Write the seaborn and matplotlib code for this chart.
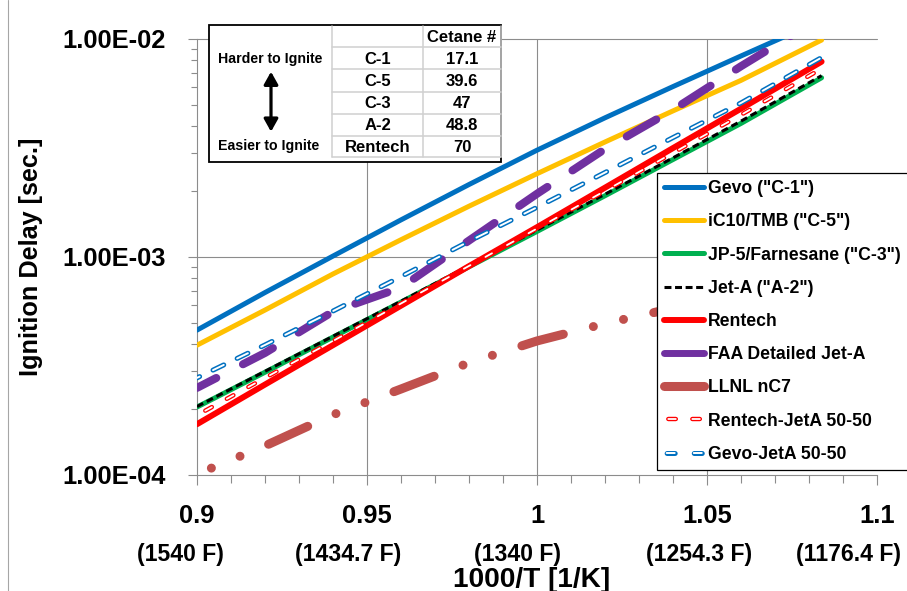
import numpy as np
import pandas as pd
import matplotlib
matplotlib.use("Agg")
import matplotlib.pyplot as plt
import seaborn as sns
from matplotlib.lines import Line2D
from matplotlib.legend_handler import HandlerTuple
from matplotlib.patches import Rectangle, ArrowStyle
from matplotlib.ticker import MultipleLocator, NullFormatter, LogLocator

# ---------------- data ----------------
inv_T = [0.90, 0.92, 0.94, 0.96, 0.98, 1.00, 1.02, 1.04, 1.06, 1.0837]
gevo = [4.62e-4, 6.87e-4, 1.01e-3, 1.48e-3, 2.15e-3, 3.09e-3, 4.35e-3, 6.05e-3, 8.36e-3, 1.22e-2]
ic10_tmb = [3.94e-4, 5.71e-4, 8.36e-4, 1.20e-3, 1.71e-3, 2.41e-3, 3.37e-3, 4.68e-3, 6.46e-3, 9.89e-3]
jp5_farnesane = [2.05e-4, 2.96e-4, 4.29e-4, 6.21e-4, 9.02e-4, 1.31e-3, 1.91e-3, 2.80e-3, 4.10e-3, 6.64e-3]
jet_a = [2.06e-4, 2.99e-4, 4.33e-4, 6.27e-4, 9.12e-4, 1.33e-3, 1.94e-3, 2.85e-3, 4.20e-3, 6.79e-3]
rentech = [1.71e-4, 2.60e-4, 3.94e-4, 5.98e-4, 9.08e-4, 1.37e-3, 2.08e-3, 3.16e-3, 4.79e-3, 7.87e-3]
faa_jet_a = [2.51e-4, 3.63e-4, 5.62e-4, 7.24e-4, 1.19e-3, 1.95e-3, 3.13e-3, 4.73e-3, 7.50e-3, 1.26e-2]
llnl_nc7 = [1.01e-4, 1.36e-4, 1.89e-4, 2.48e-4, 3.27e-4, 4.12e-4, 4.95e-4, 5.82e-4, 6.92e-4, 8.71e-4]
rentech_jeta = [1.88e-4, 2.79e-4, 4.12e-4, 6.12e-4, 9.10e-4, 1.35e-3, 2.01e-3, 3.00e-3, 4.49e-3, 7.31e-3]
gevo_jeta = [2.79e-4, 3.95e-4, 5.65e-4, 8.13e-4, 1.18e-3, 1.69e-3, 2.44e-3, 3.53e-3, 5.09e-3, 8.22e-3]

series_names = ['Gevo ("C-1")', 'iC10/TMB ("C-5")', 'JP-5/Farnesane ("C-3")', 'Jet-A ("A-2")',
                'Rentech', 'FAA Detailed Jet-A', 'LLNL nC7', 'Rentech-JetA 50-50', 'Gevo-JetA 50-50']

x_ticks = [0.9, 0.95, 1.0, 1.05, 1.1]
x_tick_labels = ["0.9", "0.95", "1", "1.05", "1.1"]
f_labels = ["(1540 F)", "(1434.7 F)", "(1340 F)", "(1254.3 F)", "(1176.4 F)"]
y_ticks = [1e-4, 1e-3, 1e-2]
y_tick_labels = ["1.00E-04", "1.00E-03", "1.00E-02"]

table_fuels = ["C-1", "C-5", "C-3", "A-2", "Rentech"]
table_cetane = ["17.1", "39.6", "47", "48.8", "70"]

# ---------------- style ----------------
sns.set_theme(style="ticks")
plt.rcParams['font.family'] = ['Liberation Sans', 'DejaVu Sans']
plt.rcParams['font.weight'] = 'bold'
plt.rcParams['lines.scale_dashes'] = False

W, H = 907, 591
fig = plt.figure(figsize=(W / 100, H / 100), dpi=100)
fig.patch.set_facecolor('white')


def fx(px):
    return px / W


def fy(py):
    return 1 - py / H


ax = fig.add_axes([fx(197), fy(475), (877 - 197) / W, (475 - 39) / H])
ax.set_facecolor('white')
ax.set_yscale('log')

C_BLUE = '#0070C0'
C_YEL = '#FFC000'
C_GRN = '#00B050'
C_RED = '#FF0000'
C_PUR = '#7030A0'
C_BRN = '#C0504D'
GRID = '#8C8C8C'


def draw(y, color, lw, ls='-', cap='round', z=3):
    sns.lineplot(x=inv_T, y=y, ax=ax, color=color, linewidth=lw, linestyle=ls,
                 dash_capstyle=cap, solid_capstyle=cap, legend=False,
                 estimator=None, sort=False, zorder=z)


draw(gevo, C_BLUE, 3.6)
draw(ic10_tmb, C_YEL, 3.6)
draw(jp5_farnesane, C_GRN, 3.6)
draw(jet_a, 'black', 2.2, ls=(0, (5.0, 2.9)), cap='butt')
draw(rentech, C_RED, 4.3)
draw(faa_jet_a, C_PUR, 5.8, ls=(8.9, (24.5, 21.6)))
draw(llnl_nc7, C_BRN, 6.5, ls=(42.1, (31.0, 22.3, 0.01, 22.3, 0.01, 22.3)))
draw(rentech_jeta, C_RED, 3.2, ls=(10.9, (5.4, 12.3)))
draw(rentech_jeta, 'white', 1.3, ls=(10.9, (5.4, 12.3)))
draw(gevo_jeta, C_BLUE, 3.6, ls=(6.5, (8.6, 10.7)))
draw(gevo_jeta, 'white', 1.4, ls=(6.5, (8.6, 10.7)))

ax.set_xlim(0.9, 1.1)
ax.set_ylim(1e-4, 1e-2)

# grid lines (Excel style)
for xv in [0.95, 1.0, 1.05]:
    ax.axvline(xv, color=GRID, lw=0.8, zorder=1)
ax.axhline(1e-3, color=GRID, lw=0.8, zorder=1)
ax.axhline(1e-2, color=GRID, lw=0.8, zorder=1, clip_on=False)

for s in ['top', 'right']:
    ax.spines[s].set_visible(False)
for s in ['left', 'bottom']:
    ax.spines[s].set_color(GRID)
    ax.spines[s].set_linewidth(0.8)

ax.set_xticks(x_ticks, labels=x_tick_labels)
ax.xaxis.set_minor_locator(MultipleLocator(0.01))
ax.set_yticks(y_ticks, labels=y_tick_labels)
ax.yaxis.set_minor_locator(LogLocator(base=10, subs=np.arange(2, 10)))
ax.yaxis.set_minor_formatter(NullFormatter())

ax.tick_params(axis='x', which='major', direction='out', length=7.2, width=0.8, color=GRID,
               pad=13.5, labelsize=18.4, bottom=True)
ax.tick_params(axis='x', which='minor', direction='out', length=5.5, width=0.8, color=GRID, bottom=True)
ax.tick_params(axis='y', which='major', direction='out', length=6.5, width=0.8, color=GRID,
               pad=16.0, labelsize=18.4, left=True)
ax.tick_params(axis='y', which='minor', direction='out', length=4.0, width=0.8, color=GRID, left=True)
for lab in ax.get_xticklabels() + ax.get_yticklabels():
    lab.set_fontweight('bold')
    lab.set_color('black')

ax.set_xlabel("1000/T [1/K]", fontsize=20.2, fontweight='bold', color='black')
ax.xaxis.label.set_va('baseline')
ax.xaxis.set_label_coords((531.7 - 197) / 680, (475 - 586.7) / 436)
ax.set_ylabel("Ignition Delay [sec.]", fontsize=18.2, fontweight='bold', color='black')
ax.yaxis.set_label_coords((43.4 - 197) / 680, (475 - 257.3) / 436)

# Fahrenheit labels under the ticks
for cx, lab in zip([180.5, 348.5, 518.0, 699.5, 849.0], f_labels):
    fig.text(fx(cx), fy(560.5), lab, ha='center', va='baseline', fontsize=16.6,
             fontweight='bold', color='black')

# left border line of chart area
fig.add_artist(Line2D([fx(8), fx(8)], [0, 1], transform=fig.transFigure, color='#A6A6A6', lw=0.8))

# ---------------- legend ----------------
cap = dict(solid_capstyle='round', dash_capstyle='round')
handles = [
    Line2D([], [], color=C_BLUE, lw=3.6, **cap),
    Line2D([], [], color=C_YEL, lw=3.6, **cap),
    Line2D([], [], color=C_GRN, lw=3.6, **cap),
    Line2D([], [], color='black', lw=2.2, ls=(0, (5.0, 2.6)), dash_capstyle='butt'),
    Line2D([], [], color=C_RED, lw=4.3, **cap),
    Line2D([], [], color=C_PUR, lw=5.0, **cap),
    Line2D([], [], color=C_BRN, lw=6.5, **cap),
    (Line2D([], [], color=C_RED, lw=3.2, ls=(14.2, (5.4, 11.9)), **cap),
     Line2D([], [], color='white', lw=1.3, ls=(14.2, (5.4, 11.9)), **cap)),
    (Line2D([], [], color=C_BLUE, lw=3.6, ls=(17.6, (5.8, 13.7)), **cap),
     Line2D([], [], color='white', lw=1.4, ls=(17.6, (5.8, 13.7)), **cap)),
]
leg = fig.legend(handles, series_names, loc='upper left',
                 bbox_to_anchor=(fx(657), fy(173)), bbox_transform=fig.transFigure,
                 frameon=True, fancybox=False, framealpha=1, edgecolor='black',
                 borderaxespad=0, borderpad=0.4, handlelength=2.26, handletextpad=0.23,
                 labelspacing=0.92, prop={'weight': 'bold', 'size': 12.7},
                 handler_map={tuple: HandlerTuple(ndivide=1, pad=0)})
leg.get_frame().set_linewidth(0.9)
for t in leg.get_texts():
    t.set_color('black')

# ---------------- cetane table ----------------
tab = fig.add_axes([fx(208), fy(163), (502 - 208) / W, (163 - 24) / H])
tab.set_xlim(208, 502)
tab.set_ylim(163, 24)
tab.axis('off')
tab.add_patch(Rectangle((208.7, 24.7), 292.6, 137.6, facecolor='white', edgecolor='black',
                        lw=1.3, clip_on=False, zorder=1))
TG = '#D0D0D0'
row_edges = [47.3, 69.3, 91.7, 114.0, 136.0, 157.3]
for yv in row_edges:
    tab.plot([332.3, 500.5], [yv, yv], color=TG, lw=1.1, zorder=2, clip_on=False)
for xv in [332.3, 423.3, 500.5]:
    tab.plot([xv, xv], [25.5, 157.3], color=TG, lw=1.1, zorder=2, clip_on=False)

row_centers = [37.0, 59.0, 81.2, 103.3, 125.5, 147.2]
tab.text(462, row_centers[0], "Cetane #", ha='center', va='center', fontsize=12.0,
         fontweight='bold', color='black', zorder=3)
for rc, fuel, cn in zip(row_centers[1:], table_fuels, table_cetane):
    tab.text(377.7, rc, fuel, ha='center', va='center', fontsize=12.0, fontweight='bold',
             color='black', zorder=3)
    tab.text(462, rc, cn, ha='center', va='center', fontsize=12.0, fontweight='bold',
             color='black', zorder=3)

tab.text(270, 59.3, "Harder to Ignite", ha='center', va='center', fontsize=10.2,
         fontweight='bold', color='black', zorder=3)
tab.text(268.3, 146, "Easier to Ignite", ha='center', va='center', fontsize=10.2,
         fontweight='bold', color='black', zorder=3)
tab.annotate('', xy=(271, 71.7), xytext=(271, 131.7),
             arrowprops=dict(arrowstyle=ArrowStyle('<|-|>', head_length=0.5, head_width=0.28),
                             color='black', lw=2.3, mutation_scale=15,
                             shrinkA=0, shrinkB=0), zorder=3)

fig.savefig("out.png", dpi=100, facecolor='white')
